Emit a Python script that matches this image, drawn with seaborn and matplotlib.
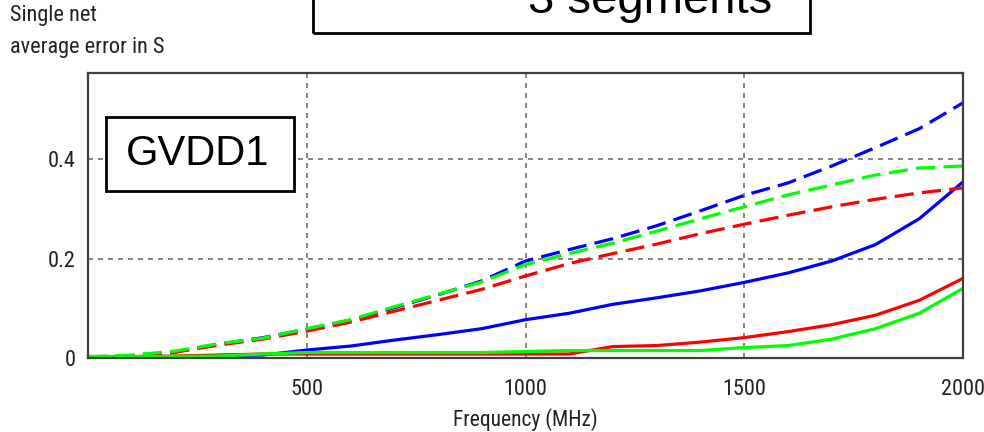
import matplotlib
matplotlib.use("Agg")
import matplotlib.pyplot as plt
from matplotlib.patches import Rectangle
from matplotlib import font_manager as fm
import pandas as pd
import seaborn as sns

# Frequency sweep (MHz)
freq = [0, 100, 200, 300, 400, 500, 600, 700, 800, 900, 1000,
        1100, 1200, 1300, 1400, 1500, 1600, 1700, 1800, 1900, 2000]

# Average error, solid traces
blue_solid = [0.000, 0.000, 0.002, 0.005, 0.006, 0.016, 0.024, 0.036, 0.047, 0.059, 0.077,
              0.090, 0.108, 0.121, 0.135, 0.152, 0.171, 0.195, 0.228, 0.280, 0.354]
red_solid = [0.003, 0.003, 0.004, 0.006, 0.008, 0.008, 0.008, 0.008, 0.008, 0.008, 0.008,
             0.008, 0.023, 0.025, 0.032, 0.041, 0.053, 0.067, 0.086, 0.116, 0.160]
green_solid = [0.003, 0.003, 0.003, 0.004, 0.008, 0.011, 0.011, 0.011, 0.011, 0.011, 0.013,
               0.015, 0.015, 0.015, 0.015, 0.021, 0.025, 0.038, 0.059, 0.090, 0.140]

# Average error, dashed traces
blue_dashed = [0.000, 0.002, 0.012, 0.028, 0.041, 0.058, 0.076, 0.101, 0.127, 0.155, 0.195,
               0.218, 0.240, 0.266, 0.296, 0.327, 0.352, 0.386, 0.423, 0.461, 0.513]
red_dashed = [0.002, 0.005, 0.012, 0.026, 0.038, 0.054, 0.072, 0.094, 0.116, 0.138, 0.165,
              0.190, 0.210, 0.229, 0.250, 0.269, 0.287, 0.304, 0.319, 0.332, 0.342]
green_dashed = [0.002, 0.006, 0.014, 0.029, 0.040, 0.059, 0.077, 0.103, 0.128, 0.153, 0.188,
                0.210, 0.231, 0.255, 0.280, 0.304, 0.328, 0.348, 0.368, 0.382, 0.386]

xticks = [500, 1000, 1500, 2000]
yticks = [0, 0.2, 0.4]
ytick_labels = ["0", "0.2", "0.4"]

series = [
    ("blue", "dashed", blue_dashed),
    ("red", "dashed", red_dashed),
    ("green", "dashed", green_dashed),
    ("blue", "solid", blue_solid),
    ("red", "solid", red_solid),
    ("green", "solid", green_solid),
]
rows = []
for color, kind, vals in series:
    for f, v in zip(freq, vals):
        rows.append({"freq": f, "error": v, "net": color, "kind": kind})
df = pd.DataFrame(rows)

sns.set_theme(style="white")
plt.rcParams["font.family"] = ["Liberation Sans", "DejaVu Sans"]


def narrow_font(size):
    """Pick a condensed sans face if one is installed, else a plain one."""
    preferred = ["Liberation Sans Narrow", "DejaVu Sans Condensed", "Roboto Condensed",
                 "Open Sans Condensed", "Noto Sans Condensed"]
    entries = fm.fontManager.ttflist
    for name in preferred:
        for e in entries:
            if e.name == name and e.style == "normal" and e.weight in (400, "normal", "regular"):
                return fm.FontProperties(fname=e.fname, size=size)
    for e in entries:
        if (e.stretch in ("condensed", "semi-condensed", "extra-condensed")
                and e.style == "normal" and e.weight in (400, "normal", "regular")):
            return fm.FontProperties(fname=e.fname, size=size)
    return fm.FontProperties(family="Liberation Sans", size=size * 0.9)


tick_font = narrow_font(16)
label_font = narrow_font(15.5)

fig = plt.figure(figsize=(9.84, 4.32), dpi=100)
W, H = 984, 432
ax = fig.add_axes([88 / W, (H - 358) / H, (963 - 88) / W, (358 - 73) / H])

palette = {"blue": "#0000ff", "red": "#ff0000", "green": "#00ff00"}
sns.lineplot(data=df, x="freq", y="error", hue="net", style="kind",
             palette=palette, dashes={"solid": "", "dashed": (6, 2.6)},
             hue_order=["blue", "red", "green"], style_order=["solid", "dashed"],
             linewidth=2.3, legend=False, ax=ax, estimator=None, sort=False)

ax.set_xlim(0, 2000)
ax.set_ylim(0, 0.573)
ax.set_xticks(xticks)
ax.set_xticklabels([str(t) for t in xticks], fontproperties=tick_font, color="#222222")
ax.set_yticks(yticks)
ax.set_yticklabels(ytick_labels, fontproperties=tick_font, color="#222222")
ax.tick_params(axis="both", length=0)
ax.tick_params(axis="x", pad=15)
ax.tick_params(axis="y", pad=9)

for xv in [500, 1000, 1500]:
    ax.axvline(xv, color="#707070", lw=1.2, ls=(0, (3, 3)), zorder=0)
for yv in [0.2, 0.4]:
    ax.axhline(yv, color="#707070", lw=1.2, ls=(0, (3, 3)), zorder=0)

for s in ax.spines.values():
    s.set_color("#404040")
    s.set_linewidth(1.6)

ax.set_xlabel("Frequency (MHz)", fontproperties=label_font, color="#222222", labelpad=6)
ax.set_ylabel("")

fig.text(10 / W, 1 - 15 / H, "Single net", fontproperties=narrow_font(16),
         color="#222222", ha="left", va="center")
fig.text(10 / W, 1 - 47 / H, "average error in S", fontproperties=narrow_font(16),
         color="#222222", ha="left", va="center")

# Title box, cut at the top edge
fig.add_artist(Rectangle((313 / W, (H - 33) / H), (810 - 313) / W, 40 / H,
                         transform=fig.transFigure, fill=False, lw=2, ec="black"))
fig.text(650 / W, (H - 13) / H, "3 segments", fontsize=34, family="Liberation Sans",
         ha="center", va="baseline", color="black")

# Net name box
fig.add_artist(Rectangle((106 / W, (H - 191) / H), (294 - 106) / W, (191 - 117) / H,
                         transform=fig.transFigure, fill=True, fc="white", lw=2, ec="black",
                         zorder=5))
fig.text(198 / W, (H - 154) / H, "GVDD1", fontsize=30, family="Liberation Sans",
         ha="center", va="center", color="black", zorder=6)

fig.savefig("out.png", dpi=100)
